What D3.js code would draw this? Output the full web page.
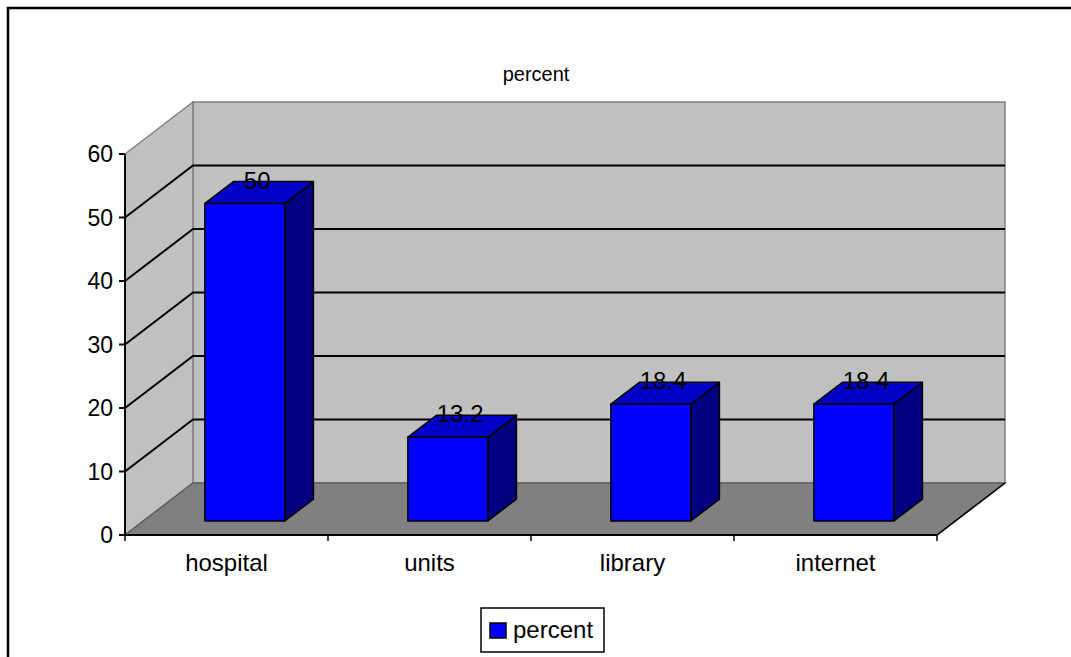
<!DOCTYPE html>
<html>
<head>
<meta charset="utf-8">
<script src="https://cdn.jsdelivr.net/npm/d3@7"></script>
<style>
  body { margin: 0; background: #fff; }
  svg text { font-family: "Liberation Sans", Arial, sans-serif; fill: #000; }
</style>
</head>
<body>
<div id="chart"></div>
<script>
const categories = ["hospital", "units", "library", "internet"];
const percent = [50, 13.2, 18.4, 18.4];
const yTicks = [0, 10, 20, 30, 40, 50, 60];
const seriesName = "percent";

const W = 1071, H = 657;

// front plane of the 3D box
const x = d3.scaleBand().domain(categories).range([125, 937]);
const y = d3.scaleLinear().domain([0, 60]).range([535, 154]);
const depth = { dx: 68, dy: -52 };

// project a point (category x, value, depth fraction z)
const P = (px, v, z) => [px + depth.dx * z, y(v) + depth.dy * z];
const pts = arr => arr.map(p => p.join(",")).join(" ");

const svg = d3.select("#chart").append("svg")
  .attr("width", W).attr("height", H);

// outer chart border
svg.append("rect")
  .attr("x", 8).attr("y", 8).attr("width", 1100).attr("height", 700)
  .attr("fill", "#fff").attr("stroke", "#000").attr("stroke-width", 2.5);

svg.append("text")
  .attr("x", 536).attr("y", 81)
  .attr("text-anchor", "middle")
  .style("font-size", "20px")
  .text(seriesName);

const x0 = x.range()[0], x1 = x.range()[1];
const yMax = d3.max(yTicks);

// back wall
svg.append("polygon")
  .attr("points", pts([P(x0, 0, 1), P(x1, 0, 1), P(x1, yMax, 1), P(x0, yMax, 1)]))
  .attr("fill", "#c0c0c0").attr("stroke", "#808080").attr("stroke-width", 1.5);

// side wall
svg.append("polygon")
  .attr("points", pts([P(x0, 0, 0), P(x0, 0, 1), P(x0, yMax, 1), P(x0, yMax, 0)]))
  .attr("fill", "#c0c0c0").attr("stroke", "#808080").attr("stroke-width", 1.5);

// floor
svg.append("polygon")
  .attr("points", pts([P(x0, 0, 0), P(x1, 0, 0), P(x1, 0, 1), P(x0, 0, 1)]))
  .attr("fill", "#808080").attr("stroke", "#606060").attr("stroke-width", 1.5);
svg.append("line")
  .attr("x1", P(x1, 0, 0)[0]).attr("y1", P(x1, 0, 0)[1])
  .attr("x2", P(x1, 0, 1)[0]).attr("y2", P(x1, 0, 1)[1])
  .attr("stroke", "#000").attr("stroke-width", 1.5);

// gridlines: side wall and back wall
const grid = yTicks.filter(t => t > 0 && t < yMax);
svg.append("g").selectAll("polyline")
  .data(grid)
  .join("polyline")
  .attr("points", t => pts([P(x0, t, 0), P(x0, t, 1), P(x1, t, 1)]))
  .attr("fill", "none").attr("stroke", "#000").attr("stroke-width", 2);

// axes
svg.append("line")
  .attr("x1", x0).attr("y1", y(0)).attr("x2", x0).attr("y2", y(yMax))
  .attr("stroke", "#000").attr("stroke-width", 2);
svg.append("line")
  .attr("x1", x0).attr("y1", y(0)).attr("x2", x1).attr("y2", y(0))
  .attr("stroke", "#000").attr("stroke-width", 2);

svg.append("g").selectAll("line")
  .data(yTicks)
  .join("line")
  .attr("x1", x0 - 6).attr("x2", x0)
  .attr("y1", d => y(d)).attr("y2", d => y(d))
  .attr("stroke", "#000").attr("stroke-width", 2);

svg.append("g").selectAll("text")
  .data(yTicks)
  .join("text")
  .attr("x", x0 - 12).attr("y", d => y(d))
  .attr("text-anchor", "end").attr("dy", "0.36em")
  .style("font-size", "23px")
  .text(d => d);

const xTickPos = categories.map(c => x(c)).concat([x1]);
svg.append("g").selectAll("line")
  .data(xTickPos)
  .join("line")
  .attr("x1", d => d).attr("x2", d => d)
  .attr("y1", y(0)).attr("y2", y(0) + 6)
  .attr("stroke", "#000").attr("stroke-width", 1.5);

svg.append("g").selectAll("text")
  .data(categories)
  .join("text")
  .attr("x", d => x(d) + x.bandwidth() / 2)
  .attr("y", 571)
  .attr("text-anchor", "middle")
  .style("font-size", "24px")
  .text(d => d);

// 3D bars
const zFront = 0.27, zBack = 0.69;
const barW = x.bandwidth() * 0.394;
const bars = svg.append("g").selectAll("g")
  .data(categories.map((c, i) => ({ c, v: percent[i] })))
  .join("g");

bars.each(function (d) {
  const g = d3.select(this);
  const l = x(d.c) + (x.bandwidth() - barW) / 2;
  const r = l + barW;
  // side face
  g.append("polygon")
    .attr("points", pts([P(r, 0, zFront), P(r, 0, zBack), P(r, d.v, zBack), P(r, d.v, zFront)]))
    .attr("fill", "#000080").attr("stroke", "#000").attr("stroke-width", 1.5)
    .attr("stroke-linejoin", "round");
  // top face
  g.append("polygon")
    .attr("points", pts([P(l, d.v, zFront), P(r, d.v, zFront), P(r, d.v, zBack), P(l, d.v, zBack)]))
    .attr("fill", "#0000c8").attr("stroke", "#000").attr("stroke-width", 1.5)
    .attr("stroke-linejoin", "round");
  // front face
  g.append("polygon")
    .attr("points", pts([P(l, 0, zFront), P(r, 0, zFront), P(r, d.v, zFront), P(l, d.v, zFront)]))
    .attr("fill", "#0000ff").attr("stroke", "#000").attr("stroke-width", 1.5)
    .attr("stroke-linejoin", "round");
  // value label
  const c = P((l + r) / 2, d.v, (zFront + zBack) / 2);
  g.append("text")
    .attr("x", c[0] - 2)
    .attr("y", P(l, d.v, zBack)[1] + 7)
    .attr("text-anchor", "middle")
    .style("font-size", "24px")
    .text(d.v);
});

// legend
const lg = svg.append("g").attr("transform", "translate(481,608)");
lg.append("rect")
  .attr("width", 123).attr("height", 44)
  .attr("fill", "#fff").attr("stroke", "#000").attr("stroke-width", 1.5);
lg.append("rect")
  .attr("x", 9).attr("y", 15).attr("width", 16).attr("height", 15)
  .attr("fill", "#0000ff").attr("stroke", "#000").attr("stroke-width", 1.5);
lg.append("text")
  .attr("x", 32).attr("y", 30)
  .style("font-size", "24px")
  .text(seriesName);
</script>
</body>
</html>
